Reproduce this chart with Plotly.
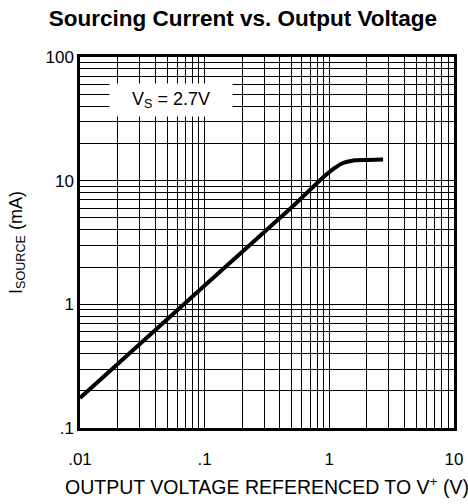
import plotly.graph_objects as go

# Data (log-log)
vout = [0.01, 0.1, 0.5, 0.89, 1.04, 1.25, 1.6, 2.0, 2.7]
isource = [0.175, 1.42, 6.1, 10.6, 12.1, 13.7, 14.6, 14.7, 14.8]

x_tickvals = [0.01, 0.1, 1, 10]
x_ticktext = [".01", ".1", "1", "10"]
y_tickvals = [0.1, 1, 10, 100]
y_ticktext = [".1", "1", "10", "100"]

title_text = "<b>Sourcing Current vs. Output Voltage</b>"
x_title = "OUTPUT VOLTAGE REFERENCED TO V<sup>+</sup> (V)"
y_title = "I<sub>SOURCE</sub> (mA)"
label_text = "V<sub>S</sub> = 2.7V"

FONT = "Liberation Sans, Arial, sans-serif"

fig = go.Figure()
fig.add_trace(go.Scatter(
    x=vout, y=isource, mode="lines",
    line=dict(color="black", width=4, shape="spline", smoothing=0.6),
    showlegend=False, hoverinfo="skip",
))

axis_common = dict(
    type="log",
    automargin=False,
    showgrid=True, gridcolor="black", gridwidth=1,
    minor=dict(showgrid=True, gridcolor="black", gridwidth=1, dtick="D1"),
    showline=True, linecolor="black", linewidth=2.5, mirror=True,
    ticks="", zeroline=False,
    tickfont=dict(family=FONT, size=17, color="black"),
)

fig.update_xaxes(
    **axis_common,
    range=[-2, 1],
    tickvals=x_tickvals, ticktext=x_ticktext,
    ticklabelstandoff=14,
    title=dict(text=x_title, font=dict(family=FONT, size=19.5, color="black"), standoff=13),
)
fig.update_yaxes(
    **axis_common,
    range=[-1, 2],
    tickvals=y_tickvals, ticktext=y_ticktext,
    title=dict(text=y_title, font=dict(family=FONT, size=18, color="black"), standoff=19),
)

fig.add_annotation(
    text=label_text, xref="paper", yref="paper", x=0.243, y=0.885,
    xanchor="center", yanchor="middle",
    showarrow=False, bgcolor="white", width=120, height=30,
    font=dict(family=FONT, size=18, color="black"),
)

fig.update_layout(
    width=468, height=504,
    margin=dict(l=80, r=14, t=57, b=76),
    paper_bgcolor="white", plot_bgcolor="white",
    title=dict(text=title_text, x=0.519, xanchor="center", y=0.964, yanchor="middle",
               font=dict(family=FONT, size=22.5, color="black")),
)

fig.write_html("out.html", config={"displayModeBar": False},
               post_script="document.body.style.margin='0';")
